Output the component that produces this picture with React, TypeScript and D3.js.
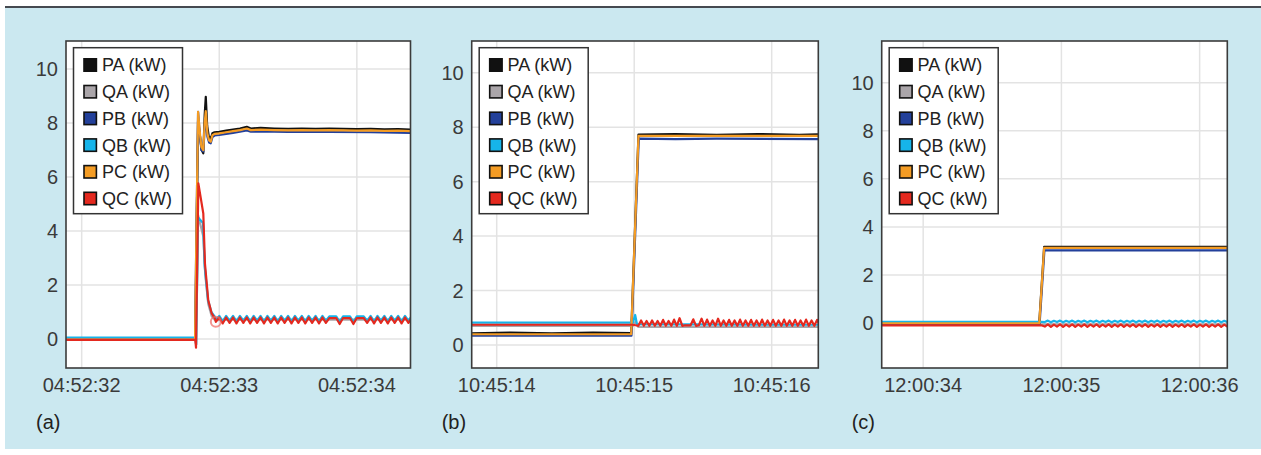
import React from 'react';
import * as d3 from 'd3';

type Pt = [number, number];

const SERIES_NAMES = ['PA (kW)', 'QA (kW)', 'PB (kW)', 'QB (kW)', 'PC (kW)', 'QC (kW)'];
const SERIES_COLORS = ['#111111', '#aaa5a9', '#23409a', '#16b4ea', '#f49c24', '#e4291f'];
const Y_TICKS = [0, 2, 4, 6, 8, 10];

// sampled recorder values: start time, step, explicit readings
const sampled = (t0: number, dt: number, vals: number[]): Pt[] => vals.map((v, i) => [t0 + i * dt, v]);

// ---------- panel (a) ----------
const A_X_TICKS = [32, 33, 34];
const A_X_LABELS = ['04:52:32', '04:52:33', '04:52:34'];
const A_PA: Pt[] = [[31.886, 0.02], [32.826, 0.02], [32.836, 4.2], [32.846, 8.1], [32.858, 7.6], [32.872, 7.0], [32.884, 6.88], [32.894, 8.3], [32.902, 8.97], [32.912, 7.9], [32.924, 7.5], [32.938, 7.42], [32.95, 7.62], [32.966, 7.66], [33.0, 7.68], [33.05, 7.72], [33.1, 7.76], [33.15, 7.8], [33.2, 7.86], [33.23, 7.8], [33.3, 7.82], [33.4, 7.8], [33.5, 7.79], [33.6, 7.8], [33.7, 7.79], [33.8, 7.8], [33.9, 7.79], [34.0, 7.78], [34.1, 7.79], [34.2, 7.77], [34.3, 7.78], [34.39, 7.76]];
const A_QA: Pt[] = [[31.886, 0.0], [32.826, 0.0], [32.832, -0.2], [32.846, 4.6], [32.884, 3.8], [32.898, 2.4], [32.92, 1.3], [32.945, 0.85], [32.97, 0.7], [33.1, 0.72], [33.5, 0.72], [34.0, 0.72], [34.39, 0.72]];
const A_PB: Pt[] = [[31.886, -0.03], [32.824, -0.03], [32.834, 4.0], [32.846, 8.42], [32.858, 7.6], [32.87, 7.0], [32.884, 6.95], [32.894, 7.8], [32.902, 8.2], [32.914, 7.5], [32.926, 7.28], [32.938, 7.25], [32.95, 7.48], [32.966, 7.54], [33.0, 7.56], [33.05, 7.6], [33.1, 7.64], [33.15, 7.68], [33.2, 7.73], [33.23, 7.68], [33.3, 7.69], [33.5, 7.67], [33.8, 7.67], [34.1, 7.66], [34.39, 7.64]];
const A_QB_HEAD: Pt[] = [[31.886, 0.06], [32.826, 0.06], [32.832, -0.2], [32.846, 4.5], [32.882, 4.3], [32.894, 2.7], [32.918, 1.45], [32.943, 1.0], [32.966, 0.84]];
const A_QB_OSC = [0.72, 0.86, 0.66, 0.86, 0.68, 0.86, 0.66, 0.86, 0.68, 0.86, 0.66, 0.86, 0.68, 0.86, 0.66, 0.86, 0.68, 0.86, 0.66, 0.86, 0.68, 0.86, 0.66, 0.86, 0.68, 0.86, 0.66, 0.86, 0.68, 0.86, 0.66, 0.86, 0.68, 0.84, 0.84, 0.84, 0.64, 0.84, 0.84, 0.84, 0.64, 0.84, 0.84, 0.84, 0.68, 0.86, 0.66, 0.86, 0.68, 0.86, 0.66, 0.86, 0.68, 0.86, 0.66, 0.86, 0.68, 0.86];
const A_PC: Pt[] = [[31.886, -0.02], [32.824, -0.02], [32.834, 4.0], [32.846, 8.42], [32.858, 7.7], [32.87, 7.12], [32.884, 7.0], [32.894, 8.0], [32.902, 8.44], [32.914, 7.6], [32.926, 7.36], [32.938, 7.31], [32.95, 7.55], [32.966, 7.6], [33.0, 7.62], [33.05, 7.66], [33.1, 7.7], [33.15, 7.74], [33.2, 7.8], [33.23, 7.74], [33.3, 7.76], [33.4, 7.74], [33.5, 7.73], [33.6, 7.74], [33.7, 7.73], [33.8, 7.74], [33.9, 7.73], [34.0, 7.72], [34.1, 7.73], [34.2, 7.71], [34.3, 7.72], [34.39, 7.7]];
const A_QC_HEAD: Pt[] = [[31.886, -0.03], [32.826, -0.03], [32.831, -0.32], [32.848, 5.77], [32.884, 4.65], [32.896, 2.8], [32.92, 1.44], [32.945, 0.95], [32.969, 0.76]];
const A_QC_OSC = [0.64, 0.8, 0.58, 0.8, 0.6, 0.8, 0.58, 0.8, 0.6, 0.8, 0.58, 0.8, 0.6, 0.8, 0.58, 0.8, 0.6, 0.8, 0.58, 0.8, 0.6, 0.8, 0.58, 0.8, 0.6, 0.8, 0.58, 0.8, 0.6, 0.8, 0.58, 0.8, 0.6, 0.78, 0.78, 0.78, 0.56, 0.78, 0.78, 0.78, 0.56, 0.78, 0.78, 0.78, 0.6, 0.8, 0.58, 0.8, 0.6, 0.8, 0.58, 0.8, 0.6, 0.8, 0.58, 0.8, 0.6, 0.8];
const A_OSC_T0 = 32.975;
const A_OSC_DT = 0.025;
const A_MARK: Pt = [32.975, 0.64];

// ---------- panel (b) ----------
const B_X_TICKS = [14, 15, 16];
const B_X_LABELS = ['10:45:14', '10:45:15', '10:45:16'];
const B_PA: Pt[] = [[13.818, 0.42], [14.1, 0.45], [14.4, 0.42], [14.7, 0.45], [14.978, 0.43], [15.031, 7.73], [15.3, 7.75], [15.6, 7.72], [15.9, 7.75], [16.2, 7.72], [16.339, 7.74]];
const B_QA: Pt[] = [[13.818, 0.7], [14.99, 0.7], [15.01, 0.85], [15.03, 0.66], [16.339, 0.66]];
const B_PB: Pt[] = [[13.818, 0.34], [14.98, 0.34], [15.033, 7.58], [15.3, 7.56], [15.6, 7.58], [16.339, 7.56]];
const B_QB: Pt[] = [[13.818, 0.82], [14.99, 0.82], [15.007, 1.1], [15.02, 0.76], [16.339, 0.74]];
const B_PC: Pt[] = [[13.818, 0.39], [14.978, 0.39], [15.031, 7.68], [16.339, 7.68]];
const B_QC_HEAD: Pt[] = [[13.818, 0.74], [14.99, 0.74], [15.01, 0.72]];
const B_QC_OSC = [0.7, 0.9, 0.7, 0.88, 0.7, 0.9, 0.7, 0.88, 0.7, 0.92, 0.7, 0.88, 0.7, 0.93, 0.7, 0.98, 0.7, 0.72, 0.72, 0.72, 0.94, 0.7, 0.72, 0.96, 0.7, 0.93, 0.7, 0.9, 0.7, 0.96, 0.7, 0.9, 0.7, 0.92, 0.7, 0.9, 0.7, 0.93, 0.7, 0.9, 0.7, 0.92, 0.7, 0.9, 0.7, 0.93, 0.7, 0.9, 0.7, 0.92, 0.7, 0.9, 0.7, 0.93, 0.7, 0.9, 0.7, 0.92, 0.7, 0.9, 0.7, 0.93, 0.7, 0.9, 0.7, 0.92, 0.7];
const B_OSC_T0 = 15.03;
const B_OSC_DT = 0.02;

// ---------- panel (c) ----------
const C_X_TICKS = [34, 35, 36];
const C_X_LABELS = ['12:00:34', '12:00:35', '12:00:36'];
const C_PA: Pt[] = [[33.7, 0.05], [34.84, 0.05], [34.875, 3.17], [36.2, 3.17]];
const C_QA: Pt[] = [[33.7, -0.05], [34.86, -0.05], [36.2, -0.05]];
const C_PB: Pt[] = [[33.7, -0.05], [34.842, -0.05], [34.877, 3.03], [36.2, 3.03]];
const C_QB_HEAD: Pt[] = [[33.7, 0.06], [34.86, 0.06]];
const C_QB_OSC = [0.05, 0.11, 0.04, 0.1, 0.05, 0.11, 0.04, 0.1, 0.05, 0.11, 0.04, 0.1, 0.05, 0.11, 0.04, 0.1, 0.05, 0.11, 0.04, 0.1, 0.05, 0.11, 0.04, 0.1, 0.05, 0.11, 0.04, 0.1, 0.05, 0.11, 0.04, 0.1, 0.05, 0.11, 0.04, 0.1, 0.05, 0.11, 0.04, 0.1, 0.05, 0.11, 0.04, 0.1, 0.05, 0.11, 0.04, 0.1, 0.05, 0.11, 0.04, 0.1, 0.05, 0.11, 0.04, 0.1, 0.05, 0.11, 0.04, 0.1, 0.05];
const C_PC: Pt[] = [[33.7, 0.0], [34.84, 0.0], [34.875, 3.13], [36.2, 3.13]];
const C_QC_HEAD: Pt[] = [[33.7, -0.09], [34.86, -0.09]];
const C_QC_OSC = [-0.14, -0.05, -0.15, -0.06, -0.14, -0.05, -0.15, -0.06, -0.14, -0.05, -0.15, -0.06, -0.14, -0.05, -0.15, -0.06, -0.14, -0.05, -0.15, -0.06, -0.14, -0.05, -0.15, -0.06, -0.14, -0.05, -0.15, -0.06, -0.14, -0.05, -0.15, -0.06, -0.14, -0.05, -0.15, -0.06, -0.14, -0.05, -0.15, -0.06, -0.14, -0.05, -0.15, -0.06, -0.14, -0.05, -0.15, -0.06, -0.14, -0.05, -0.15, -0.06, -0.14, -0.05, -0.15, -0.06, -0.14, -0.05, -0.15, -0.06, -0.14];
const C_OSC_T0 = 34.88;
const C_OSC_DT = 0.022;

interface PanelDef {
  id: string;
  label: string;
  left: number;
  right: number;
  xDomain: [number, number];
  yDomain: [number, number];
  xTicks: number[];
  xLabels: string[];
  series: Pt[][];
  mark?: Pt;
}

const PANELS: PanelDef[] = [
  {
    id: 'a', label: '(a)', left: 66, right: 410.5,
    xDomain: [31.886, 34.39], yDomain: [-1.07, 11.04],
    xTicks: A_X_TICKS, xLabels: A_X_LABELS,
    series: [A_PA, A_QA, A_PB,
      A_QB_HEAD.concat(sampled(A_OSC_T0, A_OSC_DT, A_QB_OSC)),
      A_PC,
      A_QC_HEAD.concat(sampled(A_OSC_T0, A_OSC_DT, A_QC_OSC))],
    mark: A_MARK,
  },
  {
    id: 'b', label: '(b)', left: 471.7, right: 818.3,
    xDomain: [13.818, 16.339], yDomain: [-0.85, 11.17],
    xTicks: B_X_TICKS, xLabels: B_X_LABELS,
    series: [B_PA, B_QA, B_PB, B_QB, B_PC,
      B_QC_HEAD.concat(sampled(B_OSC_T0, B_OSC_DT, B_QC_OSC))],
  },
  {
    id: 'c', label: '(c)', left: 881.7, right: 1227.3,
    xDomain: [33.7, 36.2], yDomain: [-1.86, 11.73],
    xTicks: C_X_TICKS, xLabels: C_X_LABELS,
    series: [C_PA, C_QA, C_PB,
      C_QB_HEAD.concat(sampled(C_OSC_T0, C_OSC_DT, C_QB_OSC)),
      C_PC,
      C_QC_HEAD.concat(sampled(C_OSC_T0, C_OSC_DT, C_QC_OSC))],
  },
];

const TOP = 41;
const BOTTOM = 368;
const FONT = '"Liberation Sans", Arial, Helvetica, sans-serif';

const Panel: React.FC<{ p: PanelDef }> = ({ p }) => {
  const x = d3.scaleLinear().domain(p.xDomain).range([p.left, p.right]);
  const y = d3.scaleLinear().domain(p.yDomain).range([BOTTOM, TOP]);
  const line = d3.line<Pt>().x(d => x(d[0])).y(d => y(d[1]));
  const lx = p.left + 7.5;
  const ly = 47.7;

  return (
    <g>
      <defs>
        <clipPath id={`clip-${p.id}`}>
          <rect x={p.left} y={TOP} width={p.right - p.left} height={BOTTOM - TOP} />
        </clipPath>
      </defs>
      <rect x={p.left} y={TOP} width={p.right - p.left} height={BOTTOM - TOP} fill="#fff" />
      {Y_TICKS.map(t => (
        <line key={`gy${t}`} x1={p.left} x2={p.right} y1={y(t)} y2={y(t)} stroke="#e3e3e3" strokeWidth={1.5} />
      ))}
      {p.xTicks.map(t => (
        <line key={`gx${t}`} x1={x(t)} x2={x(t)} y1={TOP} y2={BOTTOM} stroke="#e3e3e3" strokeWidth={1.5} />
      ))}
      <g clipPath={`url(#clip-${p.id})`}>
        {p.series.map((s, i) => (
          <path key={i} d={line(s) || ''} fill="none" stroke={SERIES_COLORS[i]} strokeWidth={2.2}
            strokeLinejoin="round" strokeLinecap="round" />
        ))}
        {p.mark && (
          <circle cx={x(p.mark[0])} cy={y(p.mark[1])} r={5} fill="none" stroke="#ef6a64" strokeOpacity={0.7} strokeWidth={2} />
        )}
      </g>
      <rect x={p.left} y={TOP} width={p.right - p.left} height={BOTTOM - TOP} fill="none" stroke="#3b3b3b" strokeWidth={1.6} />
      {Y_TICKS.map(t => (
        <text key={`ty${t}`} x={p.left - 8} y={y(t)} dy="0.36em" textAnchor="end" fontSize={20} fill="#3a3a3a" fontFamily={FONT}>{t}</text>
      ))}
      {p.xTicks.map((t, i) => (
        <text key={`tx${t}`} x={x(t)} y={BOTTOM + 24} textAnchor="middle" fontSize={20} fill="#3a3a3a" fontFamily={FONT}>{p.xLabels[i]}</text>
      ))}
      <text x={p.left - 30} y={429} fontSize={20} fill="#222" fontFamily={FONT}>{p.label}</text>
      <rect x={lx} y={ly} width={109} height={166} fill="#fff" stroke="#333" strokeWidth={1.5} />
      {SERIES_NAMES.map((n, i) => (
        <g key={n} transform={`translate(${lx},${ly + 17.3 + i * 26.7})`}>
          <rect x={10.5} y={-6.2} width={12.4} height={12.4} fill={SERIES_COLORS[i]} stroke="#111" strokeWidth={1.6} />
          <text x={28.4} y={0} dy="0.36em" fontSize={18} fill="#222" fontFamily={FONT}>{n}</text>
        </g>
      ))}
    </g>
  );
};

export default function App() {
  return (
    <svg width={1261} height={455} style={{ position: 'absolute', left: 0, top: 0 }}>
      <rect x={0} y={0} width={1261} height={455} fill="#fff" />
      <rect x={5} y={8} width={1256} height={441} fill="#cbe8f0" />
      <line x1={5} x2={1261} y1={7} y2={7} stroke="#454a50" strokeWidth={2} />
      {PANELS.map(p => <Panel key={p.id} p={p} />)}
    </svg>
  );
}
